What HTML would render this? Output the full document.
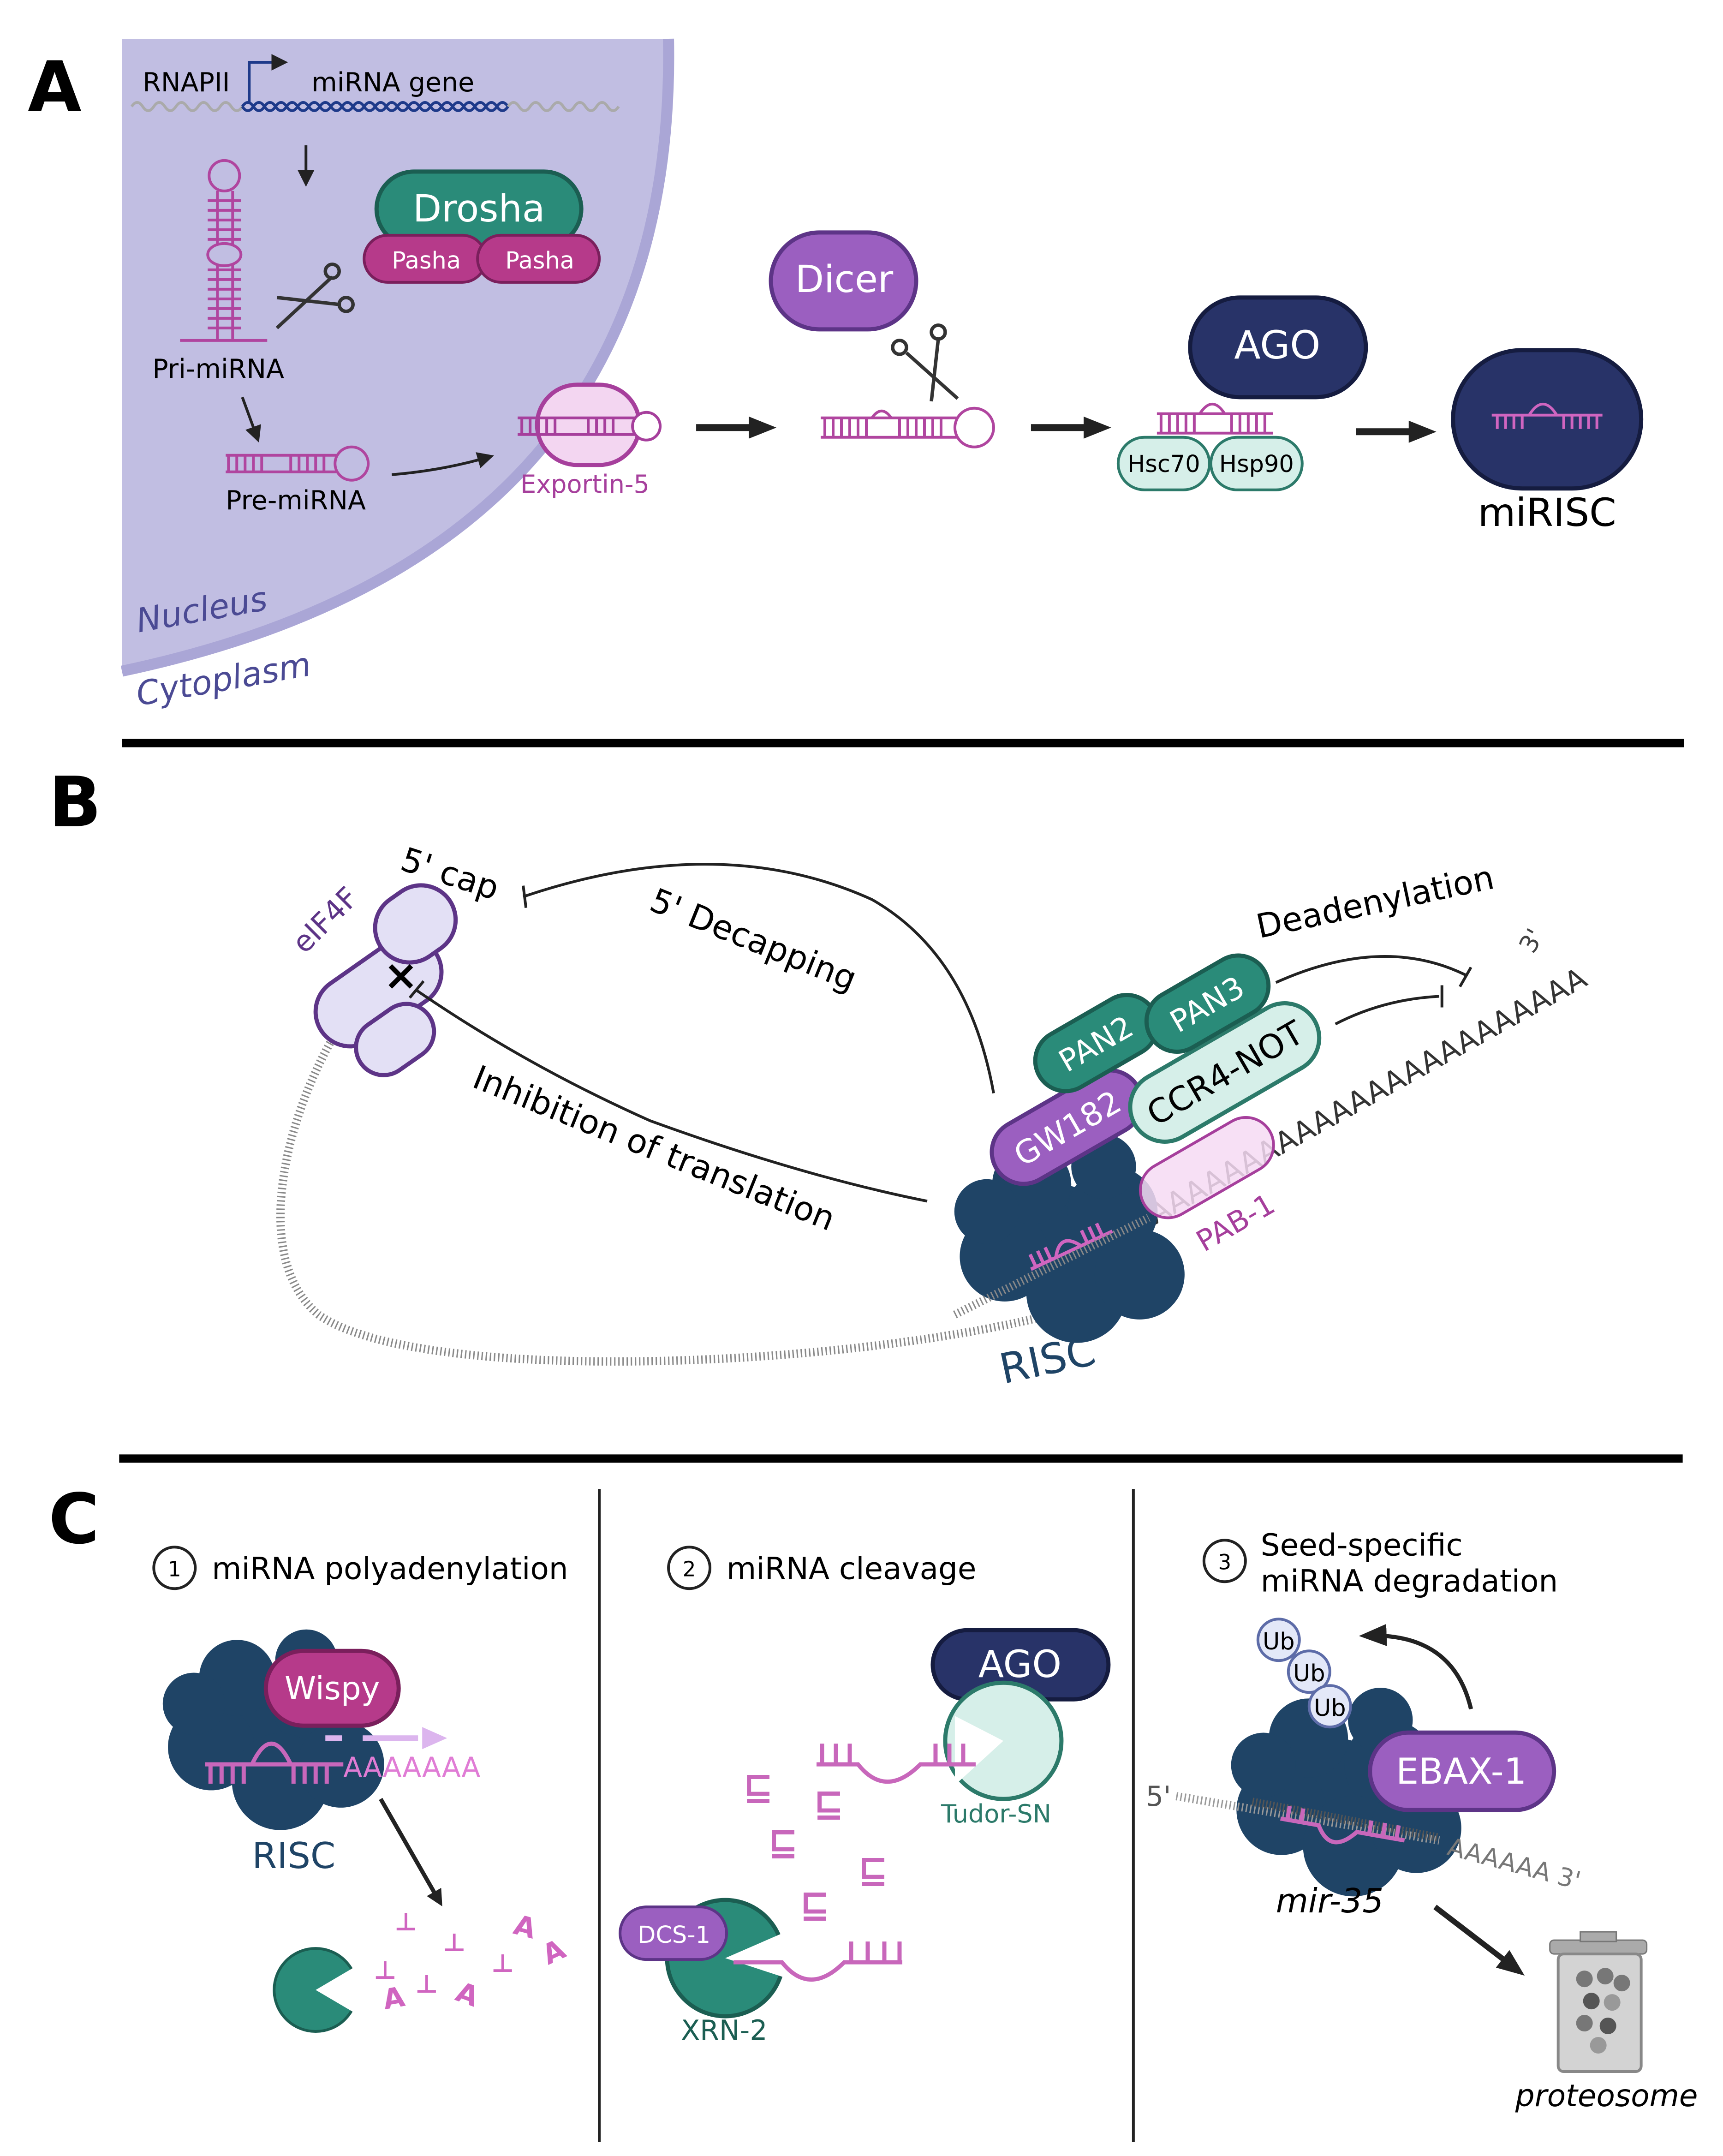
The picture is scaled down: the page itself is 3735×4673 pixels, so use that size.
<!DOCTYPE html>
<html><head><meta charset="utf-8"><style>
html,body{margin:0;padding:0;background:#fff}
svg{display:block}
text{font-family:"DejaVu Sans","Liberation Sans",sans-serif}
</style></head><body>
<svg width="3735" height="4673" viewBox="0 0 1245 1558" xmlns="http://www.w3.org/2000/svg">
<defs>
<marker id="ar" markerWidth="12" markerHeight="12" refX="9" refY="6" orient="auto" markerUnits="userSpaceOnUse"><path d="M0,0 L12,6 L0,12 Z" fill="#222"/></marker>
<marker id="ar2" markerWidth="20" markerHeight="20" refX="14" refY="10" orient="auto" markerUnits="userSpaceOnUse"><path d="M0,2 L20,10 L0,18 Z" fill="#222"/></marker>
<g id="blob" fill="#1f4466">
<circle cx="0" cy="0" r="30"/><circle cx="30" cy="-15" r="25"/><circle cx="-30" cy="10" r="25"/><circle cx="10" cy="30" r="28"/><circle cx="45" cy="20" r="25"/><circle cx="-15" cy="-30" r="22"/><circle cx="25" cy="-40" r="18"/><circle cx="-40" cy="-15" r="18"/>
</g>
</defs>

<!-- ========== A ========== -->
<text x="20" y="80" font-size="50" font-weight="bold" font-family="Liberation Sans">A</text>
<path d="M88,28 L483,28 Q490,400 88,485 Z" fill="#c1bee2"/>
<path d="M483,28 Q490,400 88,485" fill="none" stroke="#aaa6d6" stroke-width="8"/>
<text x="100" y="457" font-size="24" fill="#4b4a94" font-style="italic" transform="rotate(-10 100 457)">Nucleus</text>
<text x="100" y="510" font-size="24" fill="#4b4a94" font-style="italic" transform="rotate(-10 100 510)">Cytoplasm</text>

<text x="103" y="66" font-size="19">RNAPII</text>
<path d="M180,75 V45 H205" fill="none" stroke="#1e3a8a" stroke-width="2" marker-end="url(#ar)"/>
<text x="225" y="66" font-size="19">miRNA gene</text>
<path d="M95,77 q4,-6 8,0 t8,0 t8,0 t8,0 t8,0 t8,0 t8,0 t8,0 t8,0 t8,0" fill="none" stroke="#aaa" stroke-width="2"/>
<path d="M175,77 q4,-6 8,0 t8,0 t8,0 t8,0 t8,0 t8,0 t8,0 t8,0 t8,0 t8,0 t8,0 t8,0 t8,0 t8,0 t8,0 t8,0 t8,0 t8,0 t8,0 t8,0 t8,0 t8,0 t8,0 t8,0" fill="none" stroke="#1e3a8a" stroke-width="2"/>
<path d="M175,77 q4,6 8,0 t8,0 t8,0 t8,0 t8,0 t8,0 t8,0 t8,0 t8,0 t8,0 t8,0 t8,0 t8,0 t8,0 t8,0 t8,0 t8,0 t8,0 t8,0 t8,0 t8,0 t8,0 t8,0 t8,0" fill="none" stroke="#1e3a8a" stroke-width="2"/>
<path d="M367,77 q4,-6 8,0 t8,0 t8,0 t8,0 t8,0 t8,0 t8,0 t8,0 t8,0 t8,0" fill="none" stroke="#aaa" stroke-width="2"/>
<line x1="221" y1="105" x2="221" y2="132" stroke="#222" stroke-width="2" marker-end="url(#ar)"/>

<circle cx="162" cy="127" r="11" fill="none" stroke="#b0459f" stroke-width="2"/>
<g stroke="#b0459f" stroke-width="2">
<line x1="157" y1="138" x2="157" y2="245"/><line x1="168" y1="138" x2="168" y2="245"/>
<path d="M150,145 h24 M150,152 h24 M150,159 h24 M150,166 h24 M150,173 h24 M150,195 h24 M150,202 h24 M150,209 h24 M150,216 h24 M150,223 h24 M150,230 h24 M150,237 h24"/>
<line x1="130" y1="246" x2="193" y2="246"/>
</g>
<ellipse cx="162" cy="184" rx="12" ry="8" fill="#c1bee2" stroke="#b0459f" stroke-width="2"/>
<text x="110" y="273" font-size="19">Pri-miRNA</text>
<g stroke="#333" stroke-width="2.5" fill="none"><line x1="200" y1="237" x2="240" y2="200"/><line x1="200" y1="215" x2="245" y2="220"/><circle cx="240" cy="196" r="5"/><circle cx="250" cy="220" r="5"/></g>

<rect x="272" y="124" width="148" height="54" rx="27" fill="#2a8b79" stroke="#1b5e52" stroke-width="3"/>
<text x="346" y="160" font-size="27" fill="#fff" text-anchor="middle">Drosha</text>
<rect x="263" y="170" width="88" height="34" rx="17" fill="#b63a8a" stroke="#7a1f5c" stroke-width="2"/>
<rect x="345" y="170" width="88" height="34" rx="17" fill="#b63a8a" stroke="#7a1f5c" stroke-width="2"/>
<text x="308" y="194" font-size="17" fill="#fff" text-anchor="middle">Pasha</text>
<text x="390" y="194" font-size="17" fill="#fff" text-anchor="middle">Pasha</text>

<line x1="175" y1="287" x2="186" y2="317" stroke="#222" stroke-width="2" marker-end="url(#ar)"/>
<g stroke="#b0459f" stroke-width="2" fill="none">
<path d="M163,329 h80 M163,341 h80"/>
<path d="M165,329 v12 M171,329 v12 M177,329 v12 M183,329 v12 M189,329 v12 M210,329 v12 M216,329 v12 M222,329 v12 M228,329 v12 M234,329 v12"/>
<circle cx="254" cy="335" r="12" fill="#c1bee2"/>
</g>
<text x="163" y="368" font-size="19">Pre-miRNA</text>
<path d="M283,343 Q320,340 354,330" fill="none" stroke="#222" stroke-width="2" marker-end="url(#ar)"/>

<rect x="388" y="278" width="74" height="58" rx="29" fill="#f3d6f1" stroke="#a63f9c" stroke-width="3"/>
<g stroke="#a63f9c" stroke-width="2" fill="none">
<path d="M374,302 h90 M374,314 h90"/>
<path d="M377,302 v12 M383,302 v12 M389,302 v12 M395,302 v12 M401,302 v12 M425,302 v12 M431,302 v12 M437,302 v12 M443,302 v12"/>
<circle cx="467" cy="308" r="10" fill="#fff"/>
</g>
<text x="376" y="356" font-size="18" fill="#a63f9c">Exportin-5</text>

<line x1="503" y1="309" x2="555" y2="309" stroke="#222" stroke-width="5" marker-end="url(#ar2)"/>

<rect x="557" y="168" width="105" height="70" rx="35" fill="#9b5fc0" stroke="#5d3487" stroke-width="3"/>
<text x="610" y="211" font-size="27" fill="#fff" text-anchor="middle">Dicer</text>
<g stroke="#333" stroke-width="2.5" fill="none"><line x1="655" y1="255" x2="692" y2="288"/><line x1="678" y1="245" x2="673" y2="290"/><circle cx="650" cy="251" r="5"/><circle cx="678" cy="240" r="5"/></g>
<g stroke="#b0459f" stroke-width="2" fill="none">
<path d="M593,302 h105 M593,316 h105"/>
<path d="M596,302 v14 M602,302 v14 M608,302 v14 M614,302 v14 M620,302 v14 M626,302 v14 M650,302 v14 M656,302 v14 M662,302 v14 M668,302 v14 M674,302 v14 M680,302 v14"/>
<path d="M630,302 q7,-10 14,0" /><circle cx="704" cy="309" r="14" fill="#fff"/>
</g>
<line x1="745" y1="309" x2="797" y2="309" stroke="#222" stroke-width="5" marker-end="url(#ar2)"/>

<rect x="860" y="215" width="127" height="72" rx="36" fill="#283368" stroke="#151c40" stroke-width="3"/>
<text x="923" y="259" font-size="28" fill="#fff" text-anchor="middle">AGO</text>
<g stroke="#b0459f" stroke-width="2" fill="none">
<path d="M836,299 h84 M836,313 h84"/>
<path d="M839,299 v14 M845,299 v14 M851,299 v14 M857,299 v14 M863,299 v14 M890,299 v14 M896,299 v14 M902,299 v14 M908,299 v14 M914,299 v14"/>
<path d="M867,299 q9,-14 18,0"/>
</g>
<rect x="808" y="316" width="66" height="38" rx="19" fill="#d6efe9" stroke="#2c7a6a" stroke-width="2"/>
<rect x="875" y="316" width="66" height="38" rx="19" fill="#d6efe9" stroke="#2c7a6a" stroke-width="2"/>
<text x="841" y="341" font-size="17" text-anchor="middle">Hsc70</text>
<text x="908" y="341" font-size="17" text-anchor="middle">Hsp90</text>
<line x1="980" y1="312" x2="1032" y2="312" stroke="#222" stroke-width="5" marker-end="url(#ar2)"/>
<rect x="1050" y="253" width="136" height="100" rx="50" fill="#283368" stroke="#151c40" stroke-width="3"/>
<g stroke="#d065c0" stroke-width="2" fill="none">
<path d="M1078,300 h80"/><path d="M1082,300 v10 M1088,300 v10 M1094,300 v10 M1100,300 v10 M1130,300 v10 M1136,300 v10 M1142,300 v10 M1148,300 v10 M1154,300 v10"/>
<path d="M1105,300 q10,-16 20,0"/>
</g>
<text x="1118" y="380" font-size="28" text-anchor="middle">miRISC</text>

<line x1="88" y1="537" x2="1217" y2="537" stroke="#000" stroke-width="6"/>

<!-- ========== B ========== -->
<text x="35" y="597" font-size="50" font-weight="bold" font-family="Liberation Sans">B</text>
<path d="M270,710 C220,760 170,900 230,950 C300,1000 600,990 760,950 L830,880" fill="none" stroke="#888" stroke-width="6" stroke-dasharray="1 2"/>
<text x="835" y="885" font-size="21" fill="#333" transform="rotate(-29 835 885)">AAAAAAAAAAAAAAAAAAAAAAAA</text>
<text x="1108" y="690" font-size="18" fill="#444" transform="rotate(-60 1108 690)">3'</text>
<g transform="rotate(-35 280 700)">
<rect x="215" y="685" width="100" height="50" rx="25" fill="#e3e0f5" stroke="#5d3487" stroke-width="3"/>
<rect x="285" y="660" width="60" height="50" rx="25" fill="#e3e0f5" stroke="#5d3487" stroke-width="3"/>
<rect x="225" y="725" width="60" height="40" rx="20" fill="#e3e0f5" stroke="#5d3487" stroke-width="3"/>
</g>
<text x="220" y="690" font-size="21" fill="#5d3487" transform="rotate(-45 220 690)">eIF4F</text>
<text x="277" y="715" font-size="30" font-weight="bold">×</text>
<text x="288" y="628" font-size="24" transform="rotate(18 288 628)">5' cap</text>
<path d="M378,648 Q520,600 630,650 Q700,690 718,790" fill="none" stroke="#222" stroke-width="2"/>
<line x1="378" y1="640" x2="380" y2="656" stroke="#222" stroke-width="2"/>
<text x="468" y="657" font-size="24" transform="rotate(22 468 657)">5' Decapping</text>
<path d="M300,715 Q380,770 470,810 Q580,850 670,868" fill="none" stroke="#222" stroke-width="2"/>
<line x1="296" y1="721" x2="306" y2="709" stroke="#222" stroke-width="2"/>
<text x="340" y="785" font-size="24" transform="rotate(22 340 785)">Inhibition of translation</text>
<text x="910" y="678" font-size="24" transform="rotate(-12 910 678)">Deadenylation</text>
<path d="M922,710 Q1000,675 1060,705" fill="none" stroke="#222" stroke-width="2"/>
<line x1="1055" y1="713" x2="1063" y2="699" stroke="#222" stroke-width="2"/>
<path d="M965,740 Q1000,722 1040,720" fill="none" stroke="#222" stroke-width="2"/>
<line x1="1042" y1="712" x2="1042" y2="728" stroke="#222" stroke-width="2"/>

<use href="#blob" transform="translate(765,895) scale(1.3)"/>
<g stroke="#d065c0" stroke-width="2.5" fill="none" transform="rotate(-25 770 900)">
<path d="M740,905 h65"/><path d="M744,905 v-10 M750,905 v-10 M756,905 v-10 M785,905 v-10 M791,905 v-10 M797,905 v-10"/><path d="M760,905 q10,-16 20,0"/>
</g>
<path d="M690,950 L830,880" stroke="#888" stroke-width="6" stroke-dasharray="1 2"/>
<text x="725" y="1000" font-size="30" fill="#1f4466" transform="rotate(-12 725 1000)">RISC</text>

<g transform="rotate(-30 870 845)">
<rect x="820" y="825" width="105" height="40" rx="20" fill="#f6dbf3" fill-opacity="0.85" stroke="#a63f9c" stroke-width="2"/>
</g>
<text x="870" y="905" font-size="21" fill="#a63f9c" transform="rotate(-30 870 905)">PAB-1</text>
<g transform="rotate(-30 770 815)">
<rect x="712" y="792" width="118" height="46" rx="23" fill="#9b5fc0" stroke="#5d3487" stroke-width="3"/>
<text x="771" y="824" font-size="23" fill="#fff" text-anchor="middle">GW182</text>
</g>
<g transform="rotate(-30 885 775)">
<rect x="810" y="750" width="150" height="50" rx="25" fill="#d6efe9" stroke="#2c7a6a" stroke-width="3"/>
<text x="885" y="784" font-size="24" text-anchor="middle">CCR4-NOT</text>
</g>
<g transform="rotate(-30 790 755)">
<rect x="745" y="733" width="95" height="44" rx="22" fill="#2a8b79" stroke="#1b5e52" stroke-width="3"/>
<text x="792" y="763" font-size="22" fill="#fff" text-anchor="middle">PAN2</text>
</g>
<g transform="rotate(-30 873 725)">
<rect x="825" y="703" width="95" height="44" rx="22" fill="#2a8b79" stroke="#1b5e52" stroke-width="3"/>
<text x="872" y="733" font-size="22" fill="#fff" text-anchor="middle">PAN3</text>
</g>

<line x1="86" y1="1054" x2="1216" y2="1054" stroke="#000" stroke-width="6"/>

<!-- ========== C ========== -->
<text x="35" y="1115" font-size="50" font-weight="bold" font-family="Liberation Sans">C</text>
<line x1="433" y1="1076" x2="433" y2="1548" stroke="#222" stroke-width="2"/>
<line x1="819" y1="1076" x2="819" y2="1548" stroke="#222" stroke-width="2"/>

<circle cx="126" cy="1133" r="15" fill="none" stroke="#222" stroke-width="2"/><text x="126" y="1139" font-size="15" text-anchor="middle">1</text>
<text x="153" y="1141" font-size="22">miRNA polyadenylation</text>
<circle cx="498" cy="1133" r="15" fill="none" stroke="#222" stroke-width="2"/><text x="498" y="1139" font-size="15" text-anchor="middle">2</text>
<text x="525" y="1141" font-size="22">miRNA cleavage</text>
<circle cx="885" cy="1128" r="15" fill="none" stroke="#222" stroke-width="2"/><text x="885" y="1134" font-size="15" text-anchor="middle">3</text>
<text x="911" y="1124" font-size="22">Seed-specific</text>
<text x="911" y="1150" font-size="22">miRNA degradation</text>

<use href="#blob" transform="translate(190,1250) scale(1.25)"/>
<rect x="192" y="1193" width="96" height="54" rx="27" fill="#b63a8a" stroke="#7a1f5c" stroke-width="3"/>
<text x="240" y="1228" font-size="23" fill="#fff" text-anchor="middle">Wispy</text>
<g stroke="#c867bb" stroke-width="3" fill="none">
<path d="M148,1275 h100"/><path d="M152,1275 v14 M160,1275 v14 M168,1275 v14 M176,1275 v14 M212,1275 v14 M220,1275 v14 M228,1275 v14 M236,1275 v14"/>
<path d="M182,1275 q14,-30 28,0"/>
</g>
<text x="248" y="1284" font-size="20" fill="#e07cd5">AAAAAAA</text>
<path d="M235,1256 h12 M262,1256 h40" stroke="#dcb5ee" stroke-width="4"/>
<path d="M305,1248 L323,1256 L305,1264 Z" fill="#dcb5ee"/>
<text x="182" y="1350" font-size="26" fill="#1f4466">RISC</text>
<line x1="275" y1="1300" x2="318" y2="1375" stroke="#222" stroke-width="3" marker-end="url(#ar)"/>
<circle cx="228" cy="1438" r="30" fill="#2a8b79" stroke="#1b5e52" stroke-width="2"/>
<path d="M228,1438 L262,1418 L262,1458 Z" fill="#fff"/>
<g fill="#d065c0" font-size="20" font-weight="bold">
<text x="370" y="1397" transform="rotate(15 370 1397)">A</text><text x="278" y="1452" transform="rotate(-10 278 1452)">A</text><text x="328" y="1445" transform="rotate(20 328 1445)">A</text><text x="396" y="1420" transform="rotate(-25 396 1420)">A</text>
<text x="285" y="1395" font-size="18">⊥</text><text x="320" y="1410" font-size="18">⊥</text><text x="270" y="1430" font-size="18">⊥</text><text x="300" y="1440" font-size="18">⊥</text><text x="355" y="1425" font-size="18">⊥</text>
</g>

<rect x="674" y="1178" width="127" height="50" rx="25" fill="#283368" stroke="#151c40" stroke-width="3"/>
<text x="737" y="1212" font-size="27" fill="#fff" text-anchor="middle">AGO</text>
<circle cx="725" cy="1258" r="42" fill="#d6efe9" stroke="#2c7a6a" stroke-width="3"/>
<path d="M725,1258 L690,1240 L690,1290 Z" fill="#fff"/>
<g stroke="#c867bb" stroke-width="3" fill="none">
<path d="M590,1275 h30 q20,25 45,0 h40"/><path d="M594,1275 v-15 M604,1275 v-15 M614,1275 v-15 M676,1275 v-15 M686,1275 v-15 M696,1275 v-15"/>
</g>
<text x="680" y="1317" font-size="18" fill="#2c7a6a">Tudor-SN</text>
<g fill="#c867bb" font-size="26" font-weight="bold">
<text x="537" y="1300">⊑</text><text x="588" y="1312">⊑</text><text x="555" y="1340">⊑</text><text x="620" y="1360">⊑</text><text x="578" y="1385">⊑</text>
</g>
<circle cx="524" cy="1415" r="42" fill="#2a8b79" stroke="#1b5e52" stroke-width="3"/>
<path d="M524,1415 L570,1395 L570,1430 Z" fill="#fff"/>
<g stroke="#c867bb" stroke-width="3" fill="none">
<path d="M530,1418 h35 q20,25 45,0 h42"/><path d="M615,1418 v-15 M627,1418 v-15 M639,1418 v-15 M650,1418 v-15"/>
</g>
<rect x="448" y="1378" width="77" height="38" rx="19" fill="#9b5fc0" stroke="#5d3487" stroke-width="2"/>
<text x="487" y="1404" font-size="17" fill="#fff" text-anchor="middle">DCS-1</text>
<text x="492" y="1474" font-size="20" fill="#1b5e52">XRN-2</text>

<use href="#blob" transform="translate(965,1295) scale(1.3)"/>
<circle cx="924" cy="1185" r="15" fill="#e3e8f8" stroke="#5d6ca8" stroke-width="2"/><text x="924" y="1192" font-size="17" text-anchor="middle">Ub</text>
<circle cx="946" cy="1208" r="15" fill="#e3e8f8" stroke="#5d6ca8" stroke-width="2"/><text x="946" y="1215" font-size="17" text-anchor="middle">Ub</text>
<circle cx="961" cy="1233" r="15" fill="#e3e8f8" stroke="#5d6ca8" stroke-width="2"/><text x="961" y="1240" font-size="17" text-anchor="middle">Ub</text>
<path d="M1063,1235 Q1050,1180 988,1182" fill="none" stroke="#222" stroke-width="3" marker-end="url(#ar2)"/>
<path d="M850,1298 L1040,1330" stroke="#999" stroke-width="6" stroke-dasharray="1 2"/>
<path d="M905,1302 L1040,1328" stroke="#555" stroke-width="6" stroke-dasharray="1 1.5"/>
<text x="828" y="1305" font-size="20" fill="#555">5'</text>
<text x="1045" y="1340" font-size="18" fill="#777" transform="rotate(15 1045 1340)">AAAAAA 3'</text>
<g stroke="#c867bb" stroke-width="3" fill="none" transform="rotate(10 970 1320)">
<path d="M925,1322 h28 q12,20 28,0 h35"/><path d="M930,1322 v-10 M940,1322 v-10 M990,1322 v-10 M1000,1322 v-10 M1010,1322 v-10"/>
</g>
<rect x="990" y="1252" width="133" height="56" rx="28" fill="#9b5fc0" stroke="#5d3487" stroke-width="3"/>
<text x="1056" y="1289" font-size="26" fill="#fff" text-anchor="middle">EBAX-1</text>
<text x="922" y="1382" font-size="24" font-style="italic">mir-35</text>
<line x1="1037" y1="1378" x2="1097" y2="1424" stroke="#222" stroke-width="4" marker-end="url(#ar2)"/>
<rect x="1120" y="1402" width="70" height="10" rx="3" fill="#aaa" stroke="#777"/>
<rect x="1142" y="1396" width="26" height="7" fill="#aaa" stroke="#777"/>
<rect x="1126" y="1412" width="60" height="85" rx="4" fill="#d3d3d3" stroke="#888" stroke-width="2"/>
<g fill="#777"><circle cx="1145" cy="1430" r="6"/><circle cx="1160" cy="1428" r="6"/><circle cx="1172" cy="1433" r="6"/><circle cx="1150" cy="1446" r="6" fill="#555"/><circle cx="1165" cy="1447" r="6" fill="#999"/><circle cx="1145" cy="1462" r="6"/><circle cx="1162" cy="1464" r="6" fill="#555"/><circle cx="1155" cy="1478" r="6" fill="#999"/></g>
<text x="1095" y="1522" font-size="22" font-style="italic">proteosome</text>
</svg>
</body></html>
